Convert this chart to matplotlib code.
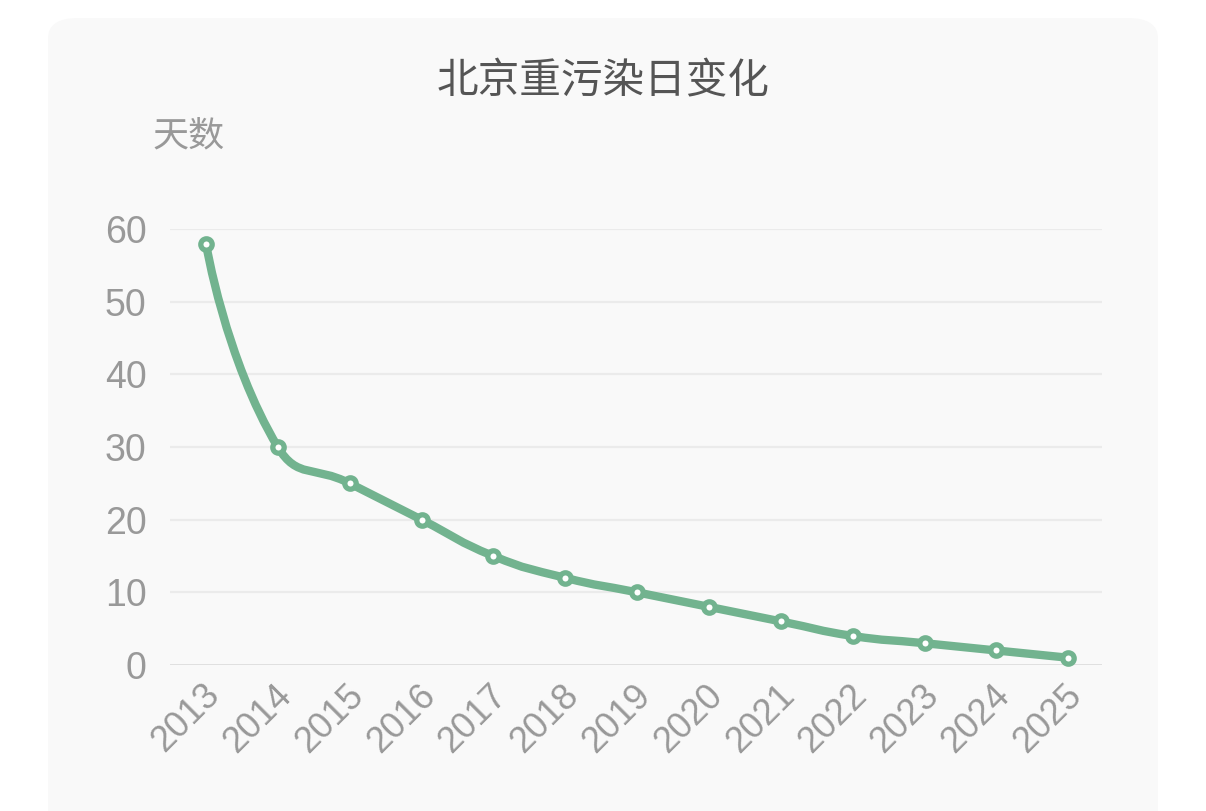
import matplotlib.pyplot as plt
import numpy as np
from matplotlib.path import Path
from matplotlib.patches import PathPatch, FancyBboxPatch
from matplotlib.transforms import ScaledTranslation

plt.rcParams['font.family'] = ['Noto Sans CJK SC', 'DejaVu Sans']

# data
years = [2013, 2014, 2015, 2016, 2017, 2018, 2019, 2020, 2021, 2022, 2023, 2024, 2025]
days = [58, 30, 25, 20, 15, 12, 10, 8, 6, 4, 3, 2, 1]
title = "北京重污染日变化"
ylabel = "天数"

GREEN = '#72b38f'


def smooth_path(xs, ys, sx, sy, smooth=0.5):
    # echarts-like bezier smoothing, distances measured in pixel space
    px = np.array(xs, float) * sx
    py = np.array(ys, float) * sy
    n = len(px)
    verts = [(xs[0], ys[0])]
    codes = [Path.MOVETO]
    cps_out = []
    cps_in = []
    for i in range(n):
        if i == 0 or i == n - 1:
            cps_in.append((px[i], py[i]))
            cps_out.append((px[i], py[i]))
            continue
        vx = px[i + 1] - px[i - 1]
        vy = py[i + 1] - py[i - 1]
        d0 = np.hypot(px[i] - px[i - 1], py[i] - py[i - 1])
        d1 = np.hypot(px[i + 1] - px[i], py[i + 1] - py[i])
        r = d0 / (d0 + d1)
        cps_in.append((px[i] - vx * smooth * r, py[i] - vy * smooth * r))
        cps_out.append((px[i] + vx * smooth * (1 - r), py[i] + vy * smooth * (1 - r)))
    for i in range(n - 1):
        a = cps_out[i]
        b = cps_in[i + 1]
        verts += [(a[0] / sx, a[1] / sy), (b[0] / sx, b[1] / sy), (xs[i + 1], ys[i + 1])]
        codes += [Path.CURVE4] * 3
    return Path(verts, codes)


fig = plt.figure(figsize=(12.06, 8.11), dpi=100)
fig.patch.set_facecolor('white')

# card background
card = FancyBboxPatch((48 / 1206, -0.1), (1158 - 48) / 1206, 1.1 - 18 / 811,
                      boxstyle="round,pad=0,rounding_size=0.025",
                      transform=fig.transFigure, facecolor='#f9f9f9',
                      edgecolor='none', zorder=-5)
fig.patches.append(card)

ax = fig.add_axes([170 / 1206, 146 / 811, 932 / 1206, 436 / 811])
ax.set_facecolor('none')
ax.set_zorder(2)

ax.set_xlim(2012.5, 2025.47)
ax.set_ylim(0, 60)

path = smooth_path(years, days, 71.8, 7.27)
ax.add_patch(PathPatch(path, fill=False, edgecolor=GREEN, lw=6,
                       capstyle='round', joinstyle='round', zorder=3))
ax.plot(years, days, 'o', ms=8.2, mfc='white', mec=GREEN, mew=3.8, zorder=4,
        clip_on=False)

ax.set_yticks([0, 10, 20, 30, 40, 50, 60])
ax.set_yticklabels(['0', '10', '20', '30', '40', '50', '60'],
                   family='Liberation Sans', fontsize=27)
ax.set_xticks(years)
ax.set_xticklabels([str(y) for y in years], rotation=45, ha='right',
                   va='top', rotation_mode='anchor',
                   family='Liberation Sans', fontsize=26)
ax.tick_params(axis='both', length=0, colors='#999999')
ax.tick_params(axis='y', pad=17)
ax.tick_params(axis='x', pad=9)
shift = ScaledTranslation(-4 / 100, 0, fig.dpi_scale_trans)
for lab in ax.get_xticklabels():
    lab.set_transform(lab.get_transform() + shift)

for y in [10, 20, 30, 40, 50, 60]:
    ax.axhline(y, color='#ebebeb', lw=1.6, zorder=1)
ax.axhline(0, color='#dddddd', lw=2, zorder=1)

for s in ax.spines.values():
    s.set_visible(False)

fig.text(603 / 1206, 1 - 82 / 811, title, ha='center', va='center',
         fontsize=30, color='#555555')
fig.text(152 / 1206, 1 - 136 / 811, ylabel, ha='left', va='center',
         fontsize=26, color='#999999')

fig.savefig('out.png', dpi=100, facecolor='white')
